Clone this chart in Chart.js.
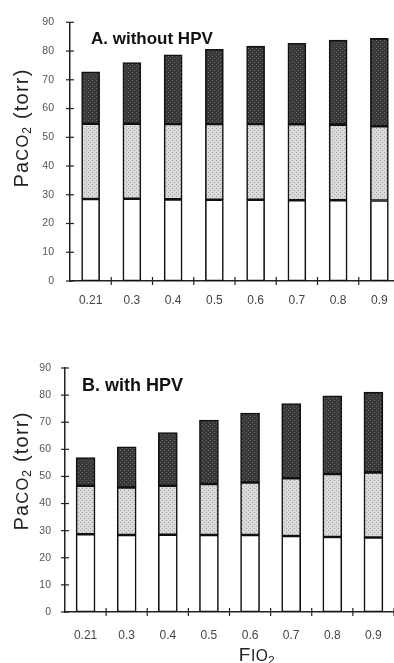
<!DOCTYPE html>
<html>
<head>
<meta charset="utf-8">
<script src="https://cdn.jsdelivr.net/npm/chart.js@4"></script>
<style>
  html, body { margin:0; padding:0; background:#fff; overflow:hidden; width:394px; height:663px; }
  .wrap { position:absolute; left:0; }
  .lbl { position:absolute; font-family:"Liberation Sans", Arial, sans-serif; color:#111; white-space:nowrap; }
  .ytitle { transform: translate(-50%,-50%) rotate(-90deg); font-size:20px; letter-spacing:1.2px; color:#222; }
  .panel { font-weight:bold; font-size:17px; transform: translateY(-50%); }
  sub { font-size:0.6em; vertical-align:-0.25em; }
  .sc { font-size:0.82em; }
</style>
</head>
<body>
<div class="wrap" style="top:0;"><canvas id="cA" width="400" height="330"></canvas></div>
<div class="wrap" style="top:330px;"><canvas id="cB" width="400" height="333"></canvas></div>

<div class="lbl ytitle" style="left:22px; top:128px;">Pa<span class="sc">CO</span><sub>2</sub> (torr)</div>
<div class="lbl ytitle" style="left:22px; top:471px;">Pa<span class="sc">CO</span><sub>2</sub> (torr)</div>
<div class="lbl panel" style="left:91px; top:39px;">A. without HPV</div>
<div class="lbl panel" style="left:82px; top:385px; font-size:18px;">B. with HPV</div>
<div class="lbl" style="left:257px; top:655px; transform:translate(-50%,-50%); font-size:19px; letter-spacing:0.5px; color:#222;">F<span class="sc">IO</span><sub>2</sub></div>

<script>
// ---- data ----
const categories = ['0.21','0.3','0.4','0.5','0.6','0.7','0.8','0.9'];
const yTicks = [0,10,20,30,40,50,60,70,80,90];

// Panel A (without HPV): boundaries
const aBottom    = [28.5, 28.6, 28.4, 28.3, 28.3, 28.1, 28.1, 28.0];
const aMiddleTop = [54.7, 54.7, 54.6, 54.6, 54.6, 54.5, 54.4, 53.8];
const aTotal     = [72.8, 76.0, 78.7, 80.6, 81.7, 82.7, 83.8, 84.4];

// Panel B (with HPV)
const bBottom    = [28.7, 28.4, 28.5, 28.4, 28.4, 28.0, 27.7, 27.5];
const bMiddleTop = [46.6, 45.9, 46.6, 47.2, 47.8, 49.3, 50.9, 51.5];
const bTotal     = [57.0, 60.9, 66.2, 70.8, 73.4, 76.9, 79.7, 81.1];

function diff(a, b) { return a.map((v, i) => +(v - b[i]).toFixed(2)); }

function makePattern(bg, dot) {
  const c = document.createElement('canvas');
  c.width = 4; c.height = 4;
  const x = c.getContext('2d');
  x.fillStyle = bg; x.fillRect(0, 0, 4, 4);
  x.fillStyle = dot;
  x.fillRect(0, 0, 1, 1); x.fillRect(2, 2, 1, 1);
  return x.createPattern(c, 'repeat');
}
const midFill = makePattern('#dadada', '#a2a2a2');
const topFill = makePattern('#383838', '#666666');

const crossTicks = {
  id: 'crossTicks',
  afterDraw(chart) {
    const ctx = chart.ctx, xs = chart.scales.x, ys = chart.scales.y;
    ctx.save();
    ctx.strokeStyle = '#222';
    ctx.lineWidth = 1.2;
    ys.ticks.forEach((t, i) => {
      const py = ys.getPixelForTick(i);
      ctx.beginPath(); ctx.moveTo(ys.right - 4, py); ctx.lineTo(ys.right + 4, py); ctx.stroke();
    });
    const n = categories.length;
    for (let i = 1; i <= n; i++) {
      const px = xs.left + i * (xs.width / n);
      ctx.beginPath(); ctx.moveTo(px, xs.top - 4); ctx.lineTo(px, xs.top + 4); ctx.stroke();
    }
    ctx.restore();
  }
};

function build(id, bottom, midTop, total, opt) {
  const family = '"Liberation Sans", Arial, sans-serif';
  return new Chart(document.getElementById(id), {
    type: 'bar',
    data: {
      labels: categories,
      datasets: [
        { data: bottom, backgroundColor: '#ffffff' },
        { data: diff(midTop, bottom), backgroundColor: midFill },
        { data: diff(total, midTop), backgroundColor: topFill }
      ].map(d => Object.assign(d, {
        borderColor: '#111', borderWidth: 1.6, borderSkipped: false,
        barThickness: opt.bar
      }))
    },
    options: {
      responsive: false,
      devicePixelRatio: 1,
      animation: false,
      layout: { padding: { top: opt.top, right: opt.right, left: 0, bottom: 0 } },
      plugins: { legend: { display: false }, tooltip: { enabled: false } },
      scales: {
        x: {
          stacked: true,
          grid: { display: false, drawTicks: false },
          border: { color: '#222', width: 1.5 },
          ticks: { color: '#444', font: { family: family, size: 12 }, padding: opt.xpad },
          afterFit(s) { s.height = opt.xh; }
        },
        y: {
          stacked: true,
          min: 0, max: 90,
          afterBuildTicks(s) { s.ticks = yTicks.map(v => ({ value: v })); },
          grid: { display: false, drawTicks: false },
          border: { color: '#222', width: 1.5 },
          ticks: { color: '#555', font: { family: family, size: 10.5 }, padding: opt.ypad },
          afterFit(s) { s.width = opt.yw; }
        }
      }
    },
    plugins: [crossTicks]
  });
}

build('cA', aBottom, aMiddleTop, aTotal, { top: 19, right: 0, xh: 49, yw: 70, bar: 18, xpad: 12, ypad: 16 });
build('cB', bBottom, bMiddleTop, bTotal, { top: 38, right: 6, xh: 51, yw: 65, bar: 19, xpad: 16, ypad: 14 });
</script>
</body>
</html>
